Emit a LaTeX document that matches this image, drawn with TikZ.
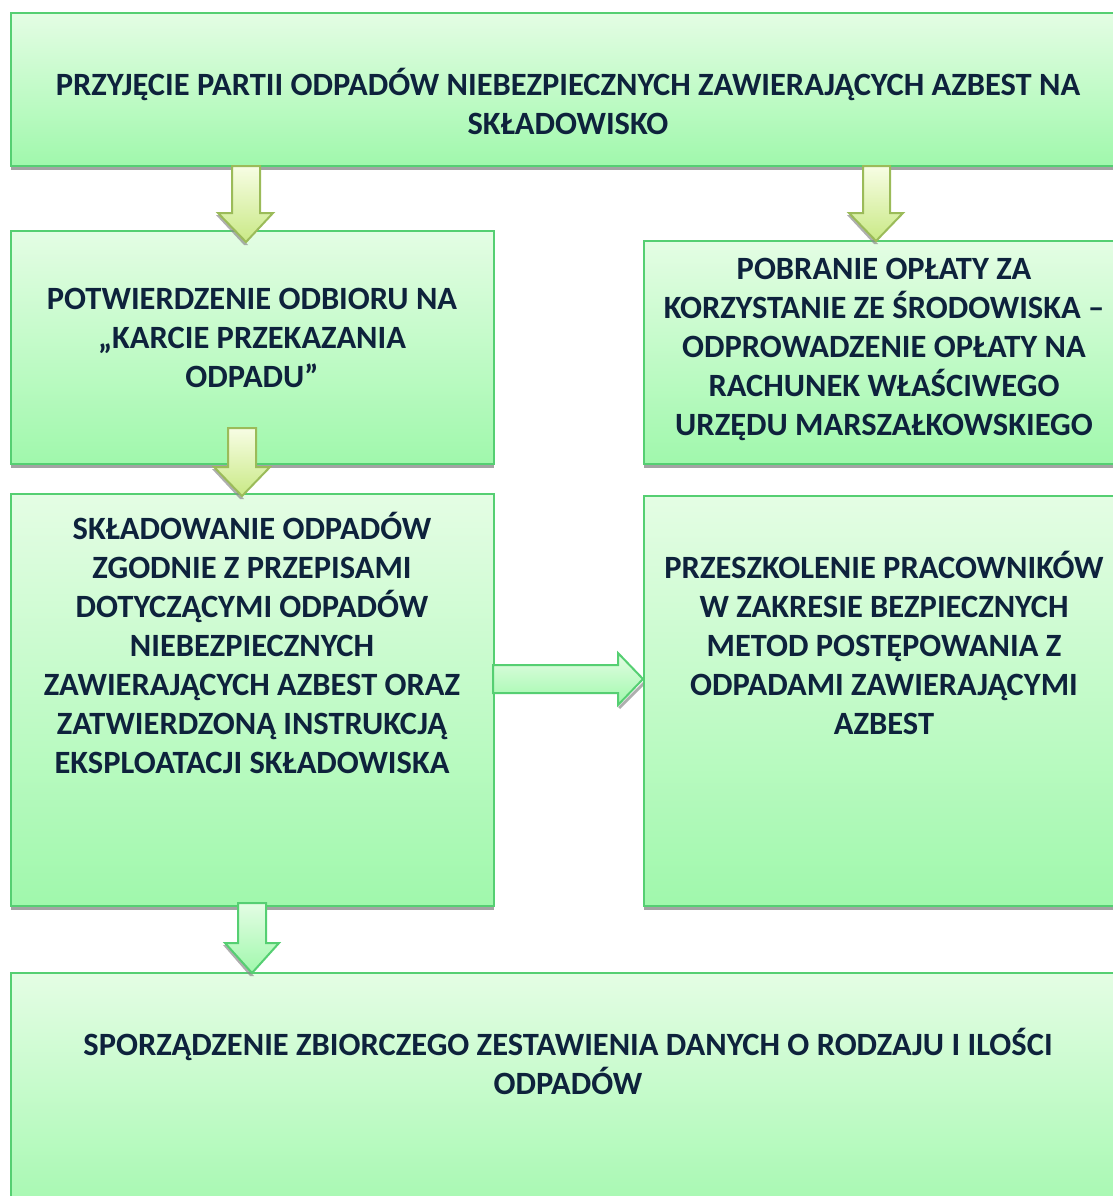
\documentclass[tikz,border=0pt]{standalone}
\usepackage{fontspec}
\setmainfont{Carlito}
\usetikzlibrary{shadows}
\definecolor{txt}{HTML}{0E223C}
\definecolor{boxline}{HTML}{55CF72}
\definecolor{boxtop}{HTML}{E4FDE4}
\definecolor{boxbot}{HTML}{A0F8AC}
\definecolor{ylline}{HTML}{9BBB59}
\definecolor{yltop}{HTML}{F7FDE4}
\definecolor{ylbot}{HTML}{C9E985}
\tikzset{
  box/.style={rectangle, anchor=north west, draw=boxline, line width=2pt,
    top color=boxtop, bottom color=boxbot, inner sep=0pt,
    drop shadow={shadow xshift=0pt, shadow yshift=-4pt, fill=black!45, opacity=0.8}},
  lbl/.style={text=txt, align=center, font=\bfseries\fontsize{32.5}{39}\selectfont, inner sep=0pt},
  ylarrow/.style={draw=ylline, line width=2pt, top color=yltop, bottom color=ylbot, line join=miter},
  grarrow/.style={draw=boxline, line width=2pt, top color=boxtop, bottom color=boxbot, line join=miter},
  ashadow/.style={fill=black!45, opacity=0.7}
}
\begin{document}
\begin{tikzpicture}[x=1pt,y=-1pt]
\useasboundingbox (0,0) rectangle (1113,1196);
\clip (0,0) rectangle (1113,1196);
\fill[white] (0,0) rectangle (1113,1196);
% boxes
\node[box, minimum width=1117pt, minimum height=153pt] (b1) at (10,12) {};
\node[box, minimum width=483pt, minimum height=233pt] (b2) at (10,230) {};
\node[box, minimum width=482pt, minimum height=223pt] (b3) at (643,240) {};
\node[box, minimum width=483pt, minimum height=412pt] (b4) at (10,493) {};
\node[box, minimum width=482pt, minimum height=410pt] (b5) at (643,495) {};
\node[box, minimum width=1117pt, minimum height=260pt] (b6) at (10,972) {};
% texts
\node[lbl] (t1) at (568,101) {PRZYJĘCIE PARTII ODPADÓW NIEBEZPIECZNYCH ZAWIERAJĄCYCH AZBEST NA\\SKŁADOWISKO};
\node[lbl] (t2) at (252,338) {POTWIERDZENIE ODBIORU NA\\„KARCIE PRZEKAZANIA\\ODPADU”};
\node[lbl] (t3) at (884,349) {POBRANIE OPŁATY ZA\\KORZYSTANIE ZE ŚRODOWISKA –\\ODPROWADZENIE OPŁATY NA\\RACHUNEK WŁAŚCIWEGO\\URZĘDU MARSZAŁKOWSKIEGO};
\node[lbl] (t4) at (252,643) {SKŁADOWANIE ODPADÓW\\ZGODNIE Z PRZEPISAMI\\DOTYCZĄCYMI ODPADÓW\\NIEBEZPIECZNYCH\\ZAWIERAJĄCYCH AZBEST ORAZ\\ZATWIERDZONĄ INSTRUKCJĄ\\EKSPLOATACJI SKŁADOWISKA};
\node[lbl] (t5) at (884,643) {PRZESZKOLENIE PRACOWNIKÓW\\W ZAKRESIE BEZPIECZNYCH\\METOD POSTĘPOWANIA Z\\ODPADAMI ZAWIERAJĄCYMI\\AZBEST};
\node[lbl] (t6) at (568,1061) {SPORZĄDZENIE ZBIORCZEGO ZESTAWIENIA DANYCH O RODZAJU I ILOŚCI\\ODPADÓW};
% arrow shadows
\fill[ashadow] (216,215) -- (244,245) -- (248,245) -- (220,215) -- cycle;
\fill[ashadow] (847,215) -- (874,244) -- (878,244) -- (851,215) -- cycle;
\fill[ashadow] (212,469) -- (240,499) -- (244,499) -- (216,469) -- cycle;
\fill[ashadow] (223,945) -- (250,976) -- (254,976) -- (227,945) -- cycle;
\fill[ashadow] (618,707) -- (643,682) -- (643,686) -- (620,709) -- cycle;
% block arrows
\draw[ylarrow] (232,166) -- (260,166) -- (260,213) -- (273,213) -- (246,242) -- (218,213) -- (232,213) -- cycle;
\draw[ylarrow] (863,166) -- (890,166) -- (890,213) -- (903,213) -- (876,241) -- (849,213) -- (863,213) -- cycle;
\draw[ylarrow] (228,428) -- (256,428) -- (256,467) -- (270,467) -- (242,496) -- (214,467) -- (228,467) -- cycle;
\draw[grarrow] (493,665) -- (618,665) -- (618,653) -- (643,679) -- (618,705) -- (618,693) -- (493,693) -- cycle;
\draw[grarrow] (238,903) -- (266,903) -- (266,943) -- (279,943) -- (252,973) -- (225,943) -- (238,943) -- cycle;
\end{tikzpicture}
\end{document}
